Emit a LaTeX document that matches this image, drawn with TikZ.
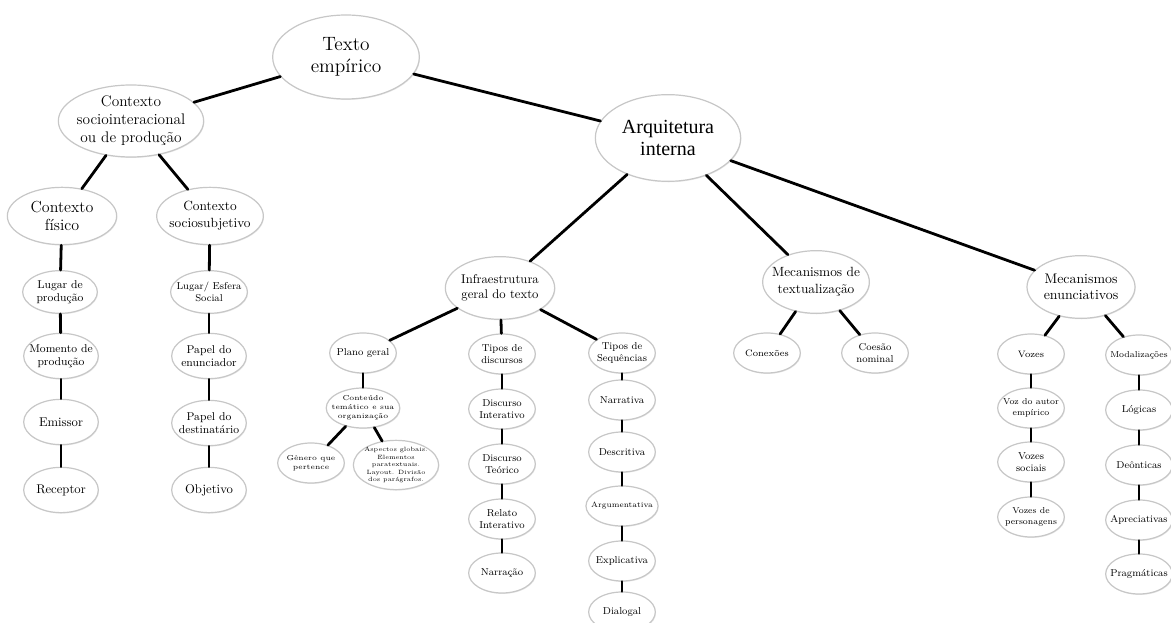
\documentclass[tikz,border=0pt]{standalone}
\usepackage{fontspec}
\usepackage{tikz}
\usetikzlibrary{shapes.geometric,shadows}
\newfontfamily\arqfont{Liberation Serif}

\begin{document}
\begin{tikzpicture}[x=0.75pt,y=-0.75pt,line cap=round,
  bub/.style={ellipse,draw=black!22,line width=0.9pt,fill=white,inner xsep=-4pt,inner ysep=-1pt,align=center,
    drop shadow={opacity=0.18,shadow xshift=0.5pt,shadow yshift=-0.7pt}},
  bignode/.style={bub,font=\fontsize{14.5}{16.5}\selectfont,minimum width=110pt,minimum height=63pt},
  midnode/.style={bub,inner xsep=-6pt,font=\fontsize{10}{12.5}\selectfont,minimum width=81pt,minimum height=47pt},
  colnode/.style={bub,font=\fontsize{8.5}{10}\selectfont,minimum width=56pt,minimum height=32pt},
  leafnode/.style={bub,font=\fontsize{7.5}{9}\selectfont,minimum width=50pt,minimum height=30pt},
  tinynode/.style={bub,font=\fontsize{5.4}{6.6}\selectfont,minimum width=50pt,minimum height=30pt},
  link/.style={line width=2.1pt,black}]
\useasboundingbox (0,0) rectangle (1171,623);
\node[bignode] (texto) at (346,57) {Texto\\empírico};
\node[bignode,minimum width=109pt,minimum height=65pt,font=\arqfont\fontsize{15}{17}\selectfont] (arq) at (668,138) {Arquitetura\\interna};
\node[midnode,minimum width=109pt,minimum height=54pt,inner xsep=-7pt,font=\fontsize{11.5}{13.5}\selectfont] (ctxsi) at (131,121) {Contexto\\sociointeracional\\ou de produção};
\node[midnode,minimum width=82pt,minimum height=43pt,font=\fontsize{12}{13.5}\selectfont] (ctxfis) at (62,216) {Contexto\\físico};
\node[midnode,minimum width=80pt,minimum height=43pt] (ctxsub) at (210,216) {Contexto\\sociosubjetivo};
\node[colnode] (lugar) at (60,292) {Lugar de\\produção};
\node[colnode,minimum height=34pt] (momento) at (61,356) {Momento de\\produção};
\node[colnode,minimum height=34pt,font=\fontsize{9.5}{11}\selectfont] (emissor) at (61,422) {Emissor};
\node[colnode,minimum height=34pt,font=\fontsize{9.5}{11}\selectfont] (receptor) at (61,490) {Receptor};
\node[colnode,font=\fontsize{7.5}{9.5}\selectfont] (esfera) at (209,292) {Lugar/ Esfera\\Social};
\node[colnode,minimum height=34pt] (enunciador) at (209,356) {Papel do\\enunciador};
\node[colnode,minimum height=34pt] (destinatario) at (209,423) {Papel do\\destinatário};
\node[colnode,minimum height=34pt,font=\fontsize{9.5}{11}\selectfont] (objetivo) at (209,490) {Objetivo};
\node[midnode,minimum width=82pt,font=\fontsize{9.5}{11.5}\selectfont] (infra) at (500,288) {Infraestrutura\\geral do texto};
\node[leafnode] (plano) at (363,353) {Plano geral};
\node[tinynode] (conteudo) at (363,408) {Conteúdo\\temático e sua\\organização};
\node[tinynode] (genero) at (311,463) {Gênero que\\pertence};
\node[tinynode,minimum width=64pt,minimum height=37pt,font=\fontsize{4.6}{5.6}\selectfont] (aspectos) at (396,465) {Aspectos globais.\\Elementos\\paratextuais.\\Layout. Divisão\\dos parágrafos.};
\node[leafnode] (tiposdisc) at (502,354) {Tipos de\\discursos};
\node[leafnode] (discint) at (502,409) {Discurso\\Interativo};
\node[leafnode] (discteo) at (502,464) {Discurso\\Teórico};
\node[leafnode] (relato) at (502,519) {Relato\\Interativo};
\node[leafnode] (narracao) at (502,573) {Narração};
\node[leafnode] (tiposseq) at (622,353) {Tipos de\\Sequências};
\node[leafnode] (narrativa) at (622,400) {Narrativa};
\node[leafnode] (descritiva) at (622,452) {Descritiva};
\node[tinynode,font=\fontsize{5.8}{7}\selectfont] (argumentativa) at (622,506) {Argumentativa};
\node[leafnode] (explicativa) at (622,561) {Explicativa};
\node[leafnode] (dialogal) at (622,612) {Dialogal};
\node[midnode,minimum width=80pt] (mectext) at (816,282) {Mecanismos de\\textualização};
\node[leafnode,font=\fontsize{7}{8.5}\selectfont] (conexoes) at (767,353) {Conexões};
\node[leafnode] (coesao) at (875,353) {Coesão\\nominal};
\node[midnode,font=\fontsize{10.4}{12.5}\selectfont] (mecenun) at (1081,287) {Mecanismos\\enunciativos};
\node[leafnode,font=\fontsize{7}{8.5}\selectfont] (vozes) at (1031,354) {Vozes};
\node[leafnode,font=\fontsize{6.5}{8}\selectfont] (vozautor) at (1031,408) {Voz do autor\\empírico};
\node[leafnode] (vozsociais) at (1031,462) {Vozes\\sociais};
\node[leafnode,font=\fontsize{6.5}{8}\selectfont] (vozpers) at (1031,517) {Vozes de\\personagens};
\node[leafnode,font=\fontsize{6.5}{8}\selectfont] (modal) at (1139,355) {Modalizações};
\node[leafnode] (logicas) at (1139,410) {Lógicas};
\node[leafnode] (deonticas) at (1139,465) {Deônticas};
\node[leafnode] (apreciativas) at (1139,520) {Apreciativas};
\node[leafnode] (pragmaticas) at (1139,574) {Pragmáticas};
\draw[link] (texto) -- (ctxsi);
\draw[link] (texto) -- (arq);
\draw[link] (ctxsi) -- (ctxfis);
\draw[link] (ctxsi) -- (ctxsub);
\draw[link] (ctxfis) -- (lugar);
\draw[link] (lugar) -- (momento);
\draw[link] (momento) -- (emissor);
\draw[link] (emissor) -- (receptor);
\draw[link] (ctxsub) -- (esfera);
\draw[link] (esfera) -- (enunciador);
\draw[link] (enunciador) -- (destinatario);
\draw[link] (destinatario) -- (objetivo);
\draw[link] (arq) -- (infra);
\draw[link] (arq) -- (mectext);
\draw[link] (arq) -- (mecenun);
\draw[link] (infra) -- (plano);
\draw[link] (infra) -- (tiposdisc);
\draw[link] (infra) -- (tiposseq);
\draw[link] (plano) -- (conteudo);
\draw[link] (conteudo) -- (genero);
\draw[link] (conteudo) -- (aspectos);
\draw[link] (tiposdisc) -- (discint);
\draw[link] (discint) -- (discteo);
\draw[link] (discteo) -- (relato);
\draw[link] (relato) -- (narracao);
\draw[link] (tiposseq) -- (narrativa);
\draw[link] (narrativa) -- (descritiva);
\draw[link] (descritiva) -- (argumentativa);
\draw[link] (argumentativa) -- (explicativa);
\draw[link] (explicativa) -- (dialogal);
\draw[link] (mectext) -- (conexoes);
\draw[link] (mectext) -- (coesao);
\draw[link] (mecenun) -- (vozes);
\draw[link] (mecenun) -- (modal);
\draw[link] (vozes) -- (vozautor);
\draw[link] (vozautor) -- (vozsociais);
\draw[link] (vozsociais) -- (vozpers);
\draw[link] (modal) -- (logicas);
\draw[link] (logicas) -- (deonticas);
\draw[link] (deonticas) -- (apreciativas);
\draw[link] (apreciativas) -- (pragmaticas);
\end{tikzpicture}
\end{document}
